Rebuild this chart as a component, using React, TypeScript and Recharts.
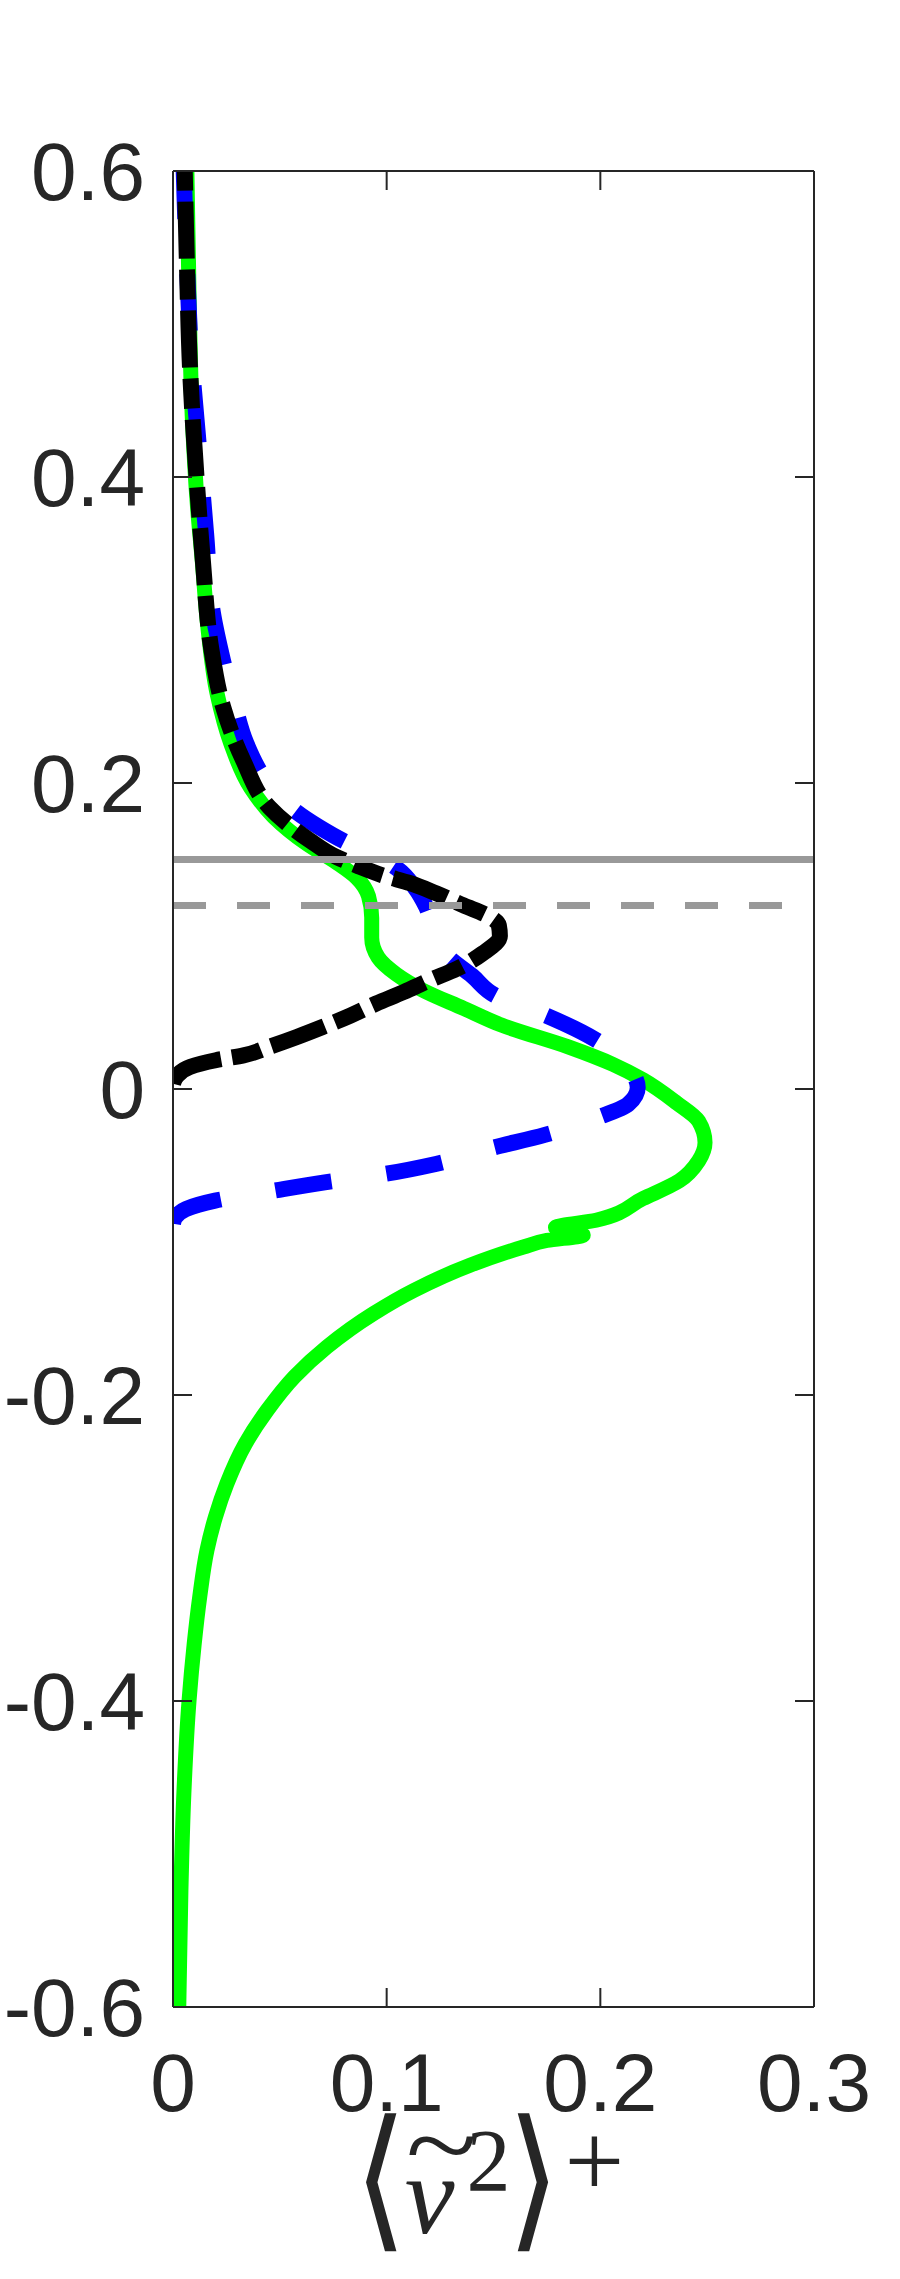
import { LineChart, Line, XAxis, YAxis } from "recharts"

// wall-normal profiles, <v~^2>+ (x) against y, listed top to bottom
const greenX = [0.0065, 0.0075, 0.009, 0.0115, 0.0137, 0.0163, 0.0207, 0.027, 0.0363, 0.047, 0.0628, 0.0765, 0.086, 0.0915, 0.093, 0.093, 0.096, 0.1045, 0.117, 0.136, 0.154, 0.185, 0.206, 0.22, 0.2356, 0.246, 0.249, 0.246, 0.237, 0.22, 0.198, 0.179, 0.192, 0.175, 0.164, 0.139, 0.1128, 0.0938, 0.072, 0.0569, 0.0441, 0.0338, 0.0252, 0.0198, 0.0159, 0.0125, 0.0099, 0.0075, 0.0051, 0.0037, 0.0027]
const greenY = [0.6, 0.52, 0.44, 0.38, 0.345, 0.302, 0.258, 0.226, 0.197, 0.178, 0.16, 0.148, 0.138, 0.126, 0.112, 0.099, 0.086, 0.075, 0.0645, 0.0527, 0.0416, 0.0275, 0.016, 0.006, -0.009, -0.021, -0.035, -0.047, -0.06, -0.0716, -0.0858, -0.0905, -0.0955, -0.099, -0.1033, -0.1152, -0.1316, -0.1468, -0.1686, -0.188, -0.21, -0.232, -0.258, -0.28, -0.3015, -0.332, -0.363, -0.4, -0.46, -0.524, -0.6]

const blueX = [0.005, 0.0065, 0.0085, 0.0115, 0.0155, 0.0187, 0.0234, 0.029, 0.0343, 0.045, 0.056, 0.0686, 0.08, 0.094, 0.105, 0.113, 0.1185, 0.122, 0.128, 0.14, 0.151, 0.173, 0.198, 0.212, 0.2175, 0.213, 0.198, 0.174, 0.148, 0.123, 0.097, 0.071, 0.045, 0.0197, 0.006, 0.001, 0]
const blueY = [0.6, 0.54, 0.48, 0.43, 0.363, 0.311, 0.28, 0.25, 0.226, 0.199, 0.183, 0.171, 0.162, 0.153, 0.144, 0.132, 0.119, 0.105, 0.0875, 0.074, 0.061, 0.049, 0.032, 0.016, 0.001, -0.01, -0.019, -0.03, -0.039, -0.049, -0.056, -0.061, -0.067, -0.073, -0.0785, -0.084, -0.088]

const blackX = [0.0055, 0.0065, 0.008, 0.011, 0.014, 0.018, 0.0234, 0.0328, 0.0452, 0.064, 0.0765, 0.086, 0.098, 0.111, 0.123, 0.136, 0.147, 0.1525, 0.153, 0.145, 0.133, 0.12, 0.108, 0.095, 0.083, 0.07, 0.058, 0.045, 0.033, 0.02, 0.0079, 0.0015, 0]
const blackY = [0.6, 0.54, 0.47, 0.4, 0.345, 0.287, 0.25, 0.215, 0.184, 0.1625, 0.1516, 0.146, 0.1397, 0.1345, 0.128, 0.12, 0.1135, 0.107, 0.1, 0.0887, 0.0787, 0.071, 0.0634, 0.0558, 0.048, 0.0405, 0.034, 0.0275, 0.022, 0.0188, 0.0144, 0.008, 0.0035]

const refSolidY = 0.15
const refDashedY = 0.12
const xRange = [0, 0.3]
const xTicks = [0, 0.1, 0.2, 0.3]
const yTicks = [-0.6, -0.4, -0.2, 0, 0.2, 0.4, 0.6]

const toPoints = (xs: number[], ys: number[]) => xs.map((x, i) => ({ x, y: ys[i] }))
const green = toPoints(greenX, greenY)
// dashed ones are drawn from their lower end so the dash phase starts there
const blue = toPoints(blueX, blueY).reverse()
const black = toPoints(blackX, blackY).reverse()
const refSolid = xRange.map((x) => ({ x, y: refSolidY }))
const refDashed = xRange.map((x) => ({ x, y: refDashedY }))

const AXIS = "#262626"
const TICK_LEN = 19
const FONT = "'Liberation Sans', Arial, Helvetica, sans-serif"
const SERIF = "'Liberation Serif', 'DejaVu Serif', serif"
const BRACKET = "'DejaVu Serif', serif"

function LeftTick(props: any) {
  const { x, y, payload } = props
  return (
    <g>
      <line x1={x} y1={y} x2={x + TICK_LEN} y2={y} stroke={AXIS} strokeWidth={2} />
      <text x={x - 28} y={y} dy={29} textAnchor="end" fontFamily={FONT} fontSize={82} fill={AXIS}>
        {String(payload.value)}
      </text>
    </g>
  )
}

function RightTick(props: any) {
  const { x, y } = props
  return <line x1={x} y1={y} x2={x - TICK_LEN} y2={y} stroke={AXIS} strokeWidth={2} />
}

function BottomTick(props: any) {
  const { x, y, payload } = props
  return (
    <g>
      <line x1={x} y1={y} x2={x} y2={y - TICK_LEN} stroke={AXIS} strokeWidth={2} />
      <text x={x} y={y + 104} textAnchor="middle" fontFamily={FONT} fontSize={82} fill={AXIS}>
        {String(payload.value)}
      </text>
    </g>
  )
}

function TopTick(props: any) {
  const { x, y } = props
  return <line x1={x} y1={y} x2={x} y2={y + TICK_LEN} stroke={AXIS} strokeWidth={2} />
}

function XLabel(props: any) {
  const vb = props.viewBox || props
  const cx = vb.x + vb.width / 2
  const top = vb.y
  return (
    <g fill={AXIS}>
      <text transform={`translate(${cx - 113},${top + 224}) scale(1.1,1.24)`} textAnchor="middle" fontFamily={BRACKET} fontSize={125}>
        ⟨
      </text>
      <text transform={`translate(${cx - 52},${top + 175}) scale(1.2,1)`} textAnchor="middle" fontFamily={SERIF} fontSize={110}>
        ~
      </text>
      <text x={cx - 64} y={top + 226} textAnchor="middle" fontFamily={SERIF} fontStyle="italic" fontSize={112}>
        v
      </text>
      <text x={cx - 5} y={top + 183} textAnchor="middle" fontFamily={SERIF} fontSize={88}>
        2
      </text>
      <text transform={`translate(${cx + 40},${top + 224}) scale(1.1,1.24)`} textAnchor="middle" fontFamily={BRACKET} fontSize={125}>
        ⟩
      </text>
      <text x={cx + 101} y={top + 190} textAnchor="middle" fontFamily={SERIF} fontSize={106}>
        +
      </text>
    </g>
  )
}

export default function App() {
  return (
    <div style={{ position: "absolute", left: 0, top: 0, background: "#fff" }}>
      <LineChart width={900} height={2279} margin={{ top: 0, right: 0, bottom: 0, left: 0 }}>
        <XAxis
          xAxisId="bottom"
          type="number"
          dataKey="x"
          domain={xRange}
          ticks={xTicks}
          allowDataOverflow
          interval={0}
          height={272}
          tickSize={0}
          tickMargin={0}
          tickLine={false}
          tick={<BottomTick />}
          axisLine={{ stroke: AXIS, strokeWidth: 2 }}
          label={<XLabel />}
        />
        <XAxis
          xAxisId="top"
          orientation="top"
          type="number"
          dataKey="x"
          domain={xRange}
          ticks={xTicks}
          allowDataOverflow
          interval={0}
          height={171}
          tickSize={0}
          tickMargin={0}
          tickLine={false}
          tick={<TopTick />}
          axisLine={{ stroke: AXIS, strokeWidth: 2 }}
        />
        <YAxis
          yAxisId="left"
          type="number"
          domain={[-0.6, 0.6]}
          ticks={yTicks}
          allowDataOverflow
          interval={0}
          width={173}
          tickSize={0}
          tickMargin={0}
          tickLine={false}
          tick={<LeftTick />}
          axisLine={{ stroke: AXIS, strokeWidth: 2 }}
        />
        <YAxis
          yAxisId="right"
          orientation="right"
          type="number"
          domain={[-0.6, 0.6]}
          ticks={yTicks}
          allowDataOverflow
          interval={0}
          width={86}
          tickSize={0}
          tickMargin={0}
          tickLine={false}
          tick={<RightTick />}
          axisLine={{ stroke: AXIS, strokeWidth: 2 }}
        />
        <Line xAxisId="bottom" yAxisId="left" data={green} dataKey="y" type="monotoneY" stroke="#00ff00" strokeWidth={15} dot={false} isAnimationActive={false} strokeLinejoin="round" />
        <Line xAxisId="bottom" yAxisId="left" data={blue} dataKey="y" type="monotoneY" stroke="#0000ff" strokeWidth={16} strokeDasharray="57 55" dot={false} isAnimationActive={false} />
        <Line xAxisId="bottom" yAxisId="left" data={black} dataKey="y" type="monotoneY" stroke="#000000" strokeWidth={16} strokeDasharray="57 11 30 11" dot={false} isAnimationActive={false} />
        <Line xAxisId="bottom" yAxisId="left" data={refSolid} dataKey="y" type="linear" stroke="#999999" strokeWidth={7} dot={false} isAnimationActive={false} />
        <Line xAxisId="bottom" yAxisId="left" data={refDashed} dataKey="y" type="linear" stroke="#999999" strokeWidth={7} strokeDasharray="33 31" dot={false} isAnimationActive={false} />
      </LineChart>
    </div>
  )
}
